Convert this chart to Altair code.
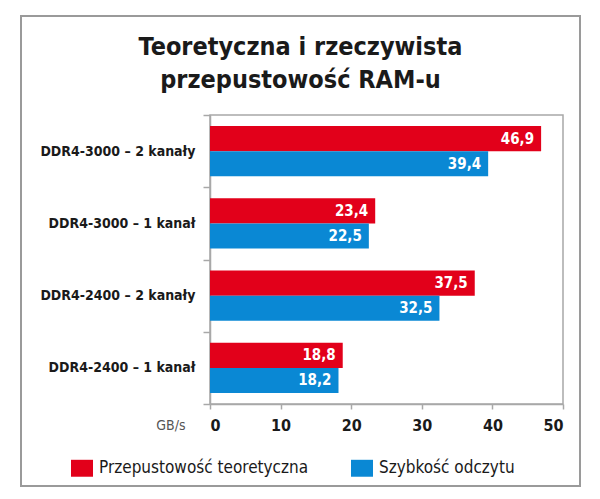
import altair as alt
import pandas as pd

categories = ["DDR4-3000 – 2 kanały", "DDR4-3000 – 1 kanał", "DDR4-2400 – 2 kanały", "DDR4-2400 – 1 kanał"]
theoretical = [46.9, 23.4, 37.5, 18.8]
measured = [39.4, 22.5, 32.5, 18.2]
series_names = ["Przepustowość teoretyczna", "Szybkość odczytu"]
series_colors = ["#e2001a", "#0a88d4"]
x_ticks = [0, 10, 20, 30, 40, 50]

rows = []
for c, t, m in zip(categories, theoretical, measured):
    rows.append({"cat": c, "series": series_names[0], "v": t})
    rows.append({"cat": c, "series": series_names[1], "v": m})
df = pd.DataFrame(rows)

FONT = "DejaVu Sans Condensed, Liberation Sans Narrow, Roboto, sans-serif"
GRAY = "#a8a8a8"

y_enc = alt.Y("cat:N", sort=categories,
              scale=alt.Scale(paddingInner=0, paddingOuter=0),
              axis=alt.Axis(title=None, labelFont=FONT, labelFontSize=14, labelFontWeight="bold",
                            labelColor="#1a1a1a", tickBand="extent", tickSize=7, labelPadding=8,
                            domainColor=GRAY, tickColor=GRAY, domainWidth=1.5, tickWidth=1.5))
x_enc = alt.X("v:Q", scale=alt.Scale(domain=[0, 50], nice=False),
              axis=alt.Axis(values=x_ticks, grid=False, title="GB/s", titleAngle=0,
                            titleX=-25, titleY=25, titleAlign="right", titleBaseline="alphabetic",
                            titleFont=FONT, titleFontSize=14, titleFontWeight="normal", titleColor="#555555",
                            labelFont=FONT, labelFontSize=16, labelFontWeight="bold", labelColor="#1a1a1a",
                            tickSize=5, labelPadding=8, domainColor=GRAY, tickColor=GRAY,
                            domainWidth=1.5, tickWidth=1.5))
yoff = alt.YOffset("series:N", sort=series_names,
                   scale=alt.Scale(paddingInner=0, paddingOuter=0.44))

bars = alt.Chart(df).mark_bar().encode(
    x=x_enc, y=y_enc, yOffset=yoff,
    color=alt.Color("series:N", sort=series_names,
                    scale=alt.Scale(domain=series_names, range=series_colors),
                    legend=alt.Legend(title=None, orient="none", direction="horizontal",
                                      legendX=-139, legendY=342, columns=2, columnPadding=42,
                                      symbolType="M-1,-0.77L1,-0.77L1,0.77L-1,0.77Z", symbolSize=484,
                                      symbolStrokeWidth=0, symbolOpacity=1, labelLimit=400,
                                      labelFont=FONT, labelFontSize=17, labelColor="#1a1a1a",
                                      labelOffset=6, padding=0)),
)

labels = alt.Chart(df).transform_calculate(
    lab="replace(format(datum.v, '.1f'), '.', ',')"
).mark_text(align="right", baseline="middle", dx=-7, color="white",
            font=FONT, fontSize=15, fontWeight="bold").encode(
    x="v:Q", y=alt.Y("cat:N", sort=categories), yOffset=alt.YOffset("series:N", sort=series_names),
    text="lab:N")

border = alt.Chart(alt.Data(values=[{"k": 1}])).mark_rect(
    fill=None, stroke="#9a9a9a", strokeWidth=2, clip=False).encode(
    x=alt.value(-189), x2=alt.value(370), y=alt.value(-99), y2=alt.value(371))

chart = alt.layer(border, bars, labels).properties(
    width=353, height=289,
    title=alt.TitleParams(["Teoretyczna i rzeczywista", "przepustowość RAM-u"],
                          font=FONT, fontSize=25, fontWeight="bold", color="#1a1a1a",
                          anchor="middle", dx=-86, offset=-78, lineHeight=33),
    autosize=alt.AutoSizeParams(type="none"),
    padding={"left": 210, "top": 115, "right": 37, "bottom": 95},
    background="white",
).configure_view(stroke=GRAY, strokeWidth=1.5)

chart.save("out.html", embed_options={"renderer": "svg", "actions": False})
